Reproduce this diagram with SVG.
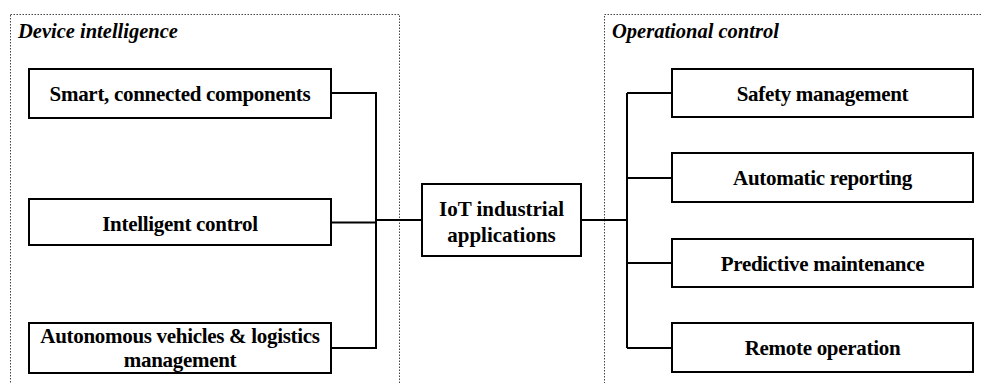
<svg xmlns="http://www.w3.org/2000/svg" width="981" height="383" viewBox="0 0 981 383">
<style>
.frame{fill:none;stroke:#444;stroke-width:1;stroke-dasharray:1.5 1.5}
.box{fill:#fff;stroke:#000;stroke-width:2}
.t{font-family:"Liberation Serif","Times New Roman",serif;font-weight:bold;font-size:21px;letter-spacing:-0.3px;text-anchor:middle;fill:#000}
.h{font-family:"Liberation Serif","Times New Roman",serif;font-weight:bold;font-style:italic;font-size:20.5px;fill:#000}
.c{fill:none;stroke:#000;stroke-width:2}
</style>
<g id="frame-left"><rect class="frame" x="10.5" y="14.5" width="389" height="380"/><text class="h" x="18" y="38">Device intelligence</text></g>
<g id="frame-right"><rect class="frame" x="604.5" y="14.5" width="400" height="380"/><text class="h" x="612" y="38">Operational control</text></g>
<g id="connectors">
<path class="c" d="M331 93H376V348H331M331 222.5H376M376 220H422"/>
<path class="c" d="M581 220H627M627 93V348M627 93H672M627 178H672M627 263H672M627 348H672"/>
</g>
<g id="n1"><rect class="box" x="29" y="69" width="302" height="49"/><text class="t" x="180" y="101">Smart, connected components</text></g>
<g id="n2"><rect class="box" x="29" y="199" width="302" height="46"/><text class="t" x="180" y="230.5">Intelligent control</text></g>
<g id="n3"><rect class="box" x="29" y="323" width="302" height="50"/><text class="t" x="180" y="343">Autonomous vehicles &amp; logistics</text><text class="t" x="180" y="367">management</text></g>
<g id="center"><rect class="box" x="422" y="184" width="159" height="72"/><text class="t" x="501.5" y="216" style="letter-spacing:0">IoT industrial</text><text class="t" x="501.5" y="241.5" style="letter-spacing:0">applications</text></g>
<g id="r1"><rect class="box" x="672" y="69" width="301" height="48"/><text class="t" x="822.5" y="100.5">Safety management</text></g>
<g id="r2"><rect class="box" x="672" y="153" width="301" height="49"/><text class="t" x="822.5" y="185">Automatic reporting</text></g>
<g id="r3"><rect class="box" x="672" y="239" width="301" height="48"/><text class="t" x="822.5" y="270.5">Predictive maintenance</text></g>
<g id="r4"><rect class="box" x="672" y="323" width="301" height="49"/><text class="t" x="822.5" y="355">Remote operation</text></g>
</svg>
